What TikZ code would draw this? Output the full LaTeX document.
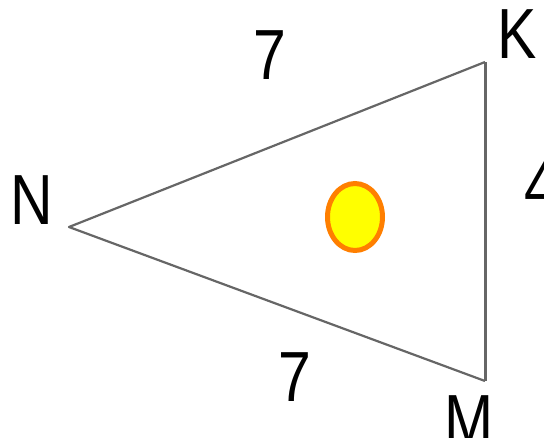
\documentclass[tikz,border=0pt]{standalone}
\usepackage{fontspec}
\newfontfamily\labelfont[FakeStretch=0.83]{Liberation Sans}
\definecolor{edgegray}{HTML}{666666}
\definecolor{dotorange}{HTML}{FF7F00}
\definecolor{dotyellow}{HTML}{FFFF00}
\tikzset{
    side/.style={edgegray, line width=2.2pt, line join=round},
    lbl/.style={inner sep=0pt, font=\labelfont\fontsize{71}{71}\selectfont}
}
\begin{document}
\begin{tikzpicture}[x=1pt, y=-1pt]
    \clip (0,0) rectangle (544,437);

    \coordinate (N) at (69,227);
    \coordinate (K) at (485,62);
    \coordinate (M) at (485,381);

    \draw[side] (K) -- (N) -- (M);
    \draw[side, line width=3pt] (K) -- (M);

    \draw[dotorange, fill=dotyellow, line width=5pt] (355,217) ellipse (27.5pt and 33.5pt);

    \node[lbl] (lN) at (32,200) {N};
    \node[lbl] (lK) at (517,34) {K};
    \node[lbl] (lM) at (469,420) {M};

    \node[lbl] (lNK) at (270,55) {7};
    \node[lbl] (lNM) at (295,377) {7};
    \node[lbl] (lKM) at (541,186) {4};
\end{tikzpicture}
\end{document}
